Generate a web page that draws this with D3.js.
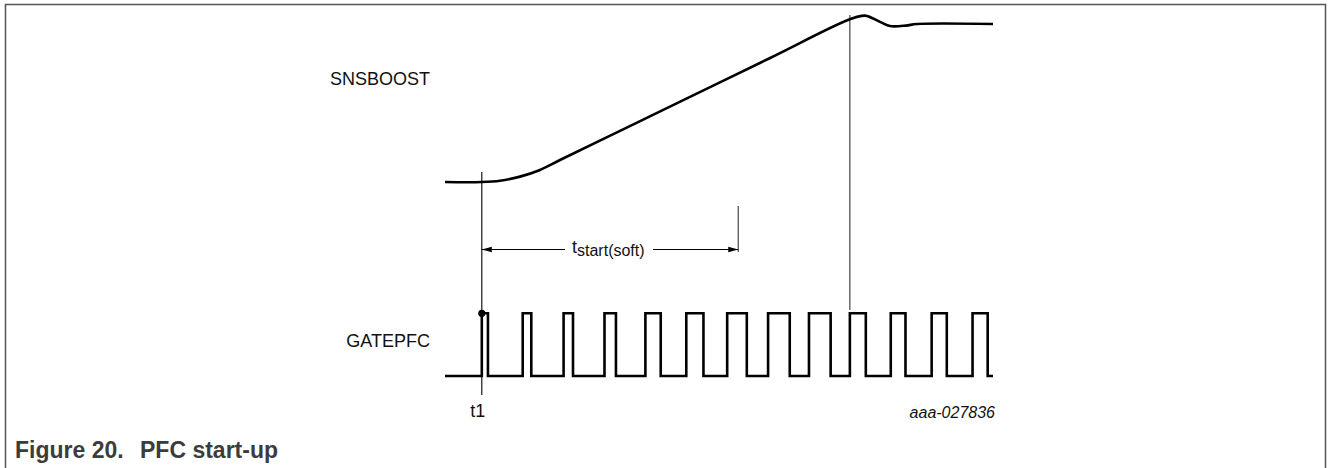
<!DOCTYPE html>
<html>
<head>
<meta charset="utf-8">
<script src="https://cdn.jsdelivr.net/npm/d3@7"></script>
<style>
  html, body { margin: 0; padding: 0; background: #fff; }
  svg { display: block; font-family: "Liberation Sans", Arial, sans-serif; }
</style>
</head>
<body>
<svg width="1328" height="468"></svg>
<script>
// time is in PWM periods, t1 = 0
const boostTime  = [-0.9, 0, 0.445, 0.934, 1.423, 1.912, 3.62, 5.33, 7.05, 9.0, 9.37, 9.76, 9.98, 10.37, 10.64, 12.5];
const boostLevel = [0, 0.0, 0.008, 0.034, 0.076, 0.139, 0.354, 0.569, 0.785, 1.03, 1.053, 1.01, 0.987, 0.99, 1.0, 1.0];

const pulseStart = [0, 1, 2, 3, 4, 5, 6, 7, 8, 9, 10, 11, 12];
const pulseWidth = [0.15, 0.21, 0.23, 0.28, 0.375, 0.42, 0.48, 0.53, 0.53, 0.39, 0.36, 0.37, 0.37];

const timeSpan = [-0.9, 12.5];
const t1Time = 0;
const regulationTime = 9;
const softStartEnd = 6.27;

const signalNames = ['SNSBOOST', 'GATEPFC'];
const t1Label = 't1';
const softLabel = ['t', 'start(soft)'];
const figureId = 'aaa-027836';
const caption = ['Figure 20.', 'PFC start-up'];

const svg = d3.select('svg');

const x = d3.scaleLinear().domain(timeSpan).range([445, 993]);
const yBoost = d3.scaleLinear().domain([0, 1]).range([182, 24]);
const yGate = d3.scaleLinear().domain([0, 1]).range([376, 313.3]);

// figure frame (open at the bottom)
svg.append('path')
    .attr('d', 'M5.5 470 V4.5 H1325.5 V470')
    .attr('fill', 'none')
    .attr('stroke', '#555')
    .attr('stroke-width', 1.5);

// thin marker lines
svg.append('line')
    .attr('x1', x(t1Time)).attr('x2', x(t1Time))
    .attr('y1', 172).attr('y2', 395)
    .attr('stroke', '#000').attr('stroke-width', 1.1);
svg.append('line')
    .attr('x1', x(regulationTime)).attr('x2', x(regulationTime))
    .attr('y1', 15).attr('y2', 310)
    .attr('stroke', '#333').attr('stroke-width', 1.1);

// SNSBOOST
const boostLine = d3.line()
    .x(d => x(d[0]))
    .y(d => yBoost(d[1]))
    .curve(d3.curveCatmullRom.alpha(0.5));
svg.append('path')
    .attr('d', boostLine(d3.zip(boostTime, boostLevel)))
    .attr('fill', 'none')
    .attr('stroke', '#000')
    .attr('stroke-width', 2.6);

// GATEPFC
let gatePts = [[timeSpan[0], 0]];
pulseStart.forEach((s, i) => {
    const e = s + pulseWidth[i];
    gatePts.push([s, 0], [s, 1], [e, 1], [e, 0]);
});
gatePts.push([timeSpan[1], 0]);
svg.append('path')
    .attr('d', d3.line().x(d => x(d[0])).y(d => yGate(d[1]))(gatePts))
    .attr('fill', 'none')
    .attr('stroke', '#000')
    .attr('stroke-width', 2.6)
    .attr('stroke-linejoin', 'miter');

svg.append('circle')
    .attr('cx', x(t1Time)).attr('cy', yGate(1))
    .attr('r', 3.6)
    .attr('fill', '#000');

// t_start(soft) dimension
const dimY = 249.5;
const xa = x(t1Time), xb = x(softStartEnd);
svg.append('line')
    .attr('x1', xb).attr('x2', xb)
    .attr('y1', 206).attr('y2', 252)
    .attr('stroke', '#333').attr('stroke-width', 1.1);
svg.append('line')
    .attr('x1', xa).attr('x2', 565).attr('y1', dimY).attr('y2', dimY)
    .attr('stroke', '#000').attr('stroke-width', 1.1);
svg.append('line')
    .attr('x1', 653).attr('x2', xb).attr('y1', dimY).attr('y2', dimY)
    .attr('stroke', '#000').attr('stroke-width', 1.1);
svg.append('path')
    .attr('d', `M${xa} ${dimY} l10 -2.7 v5.4 Z M${xb} ${dimY} l-10 -2.7 v5.4 Z`)
    .attr('fill', '#000');

const soft = svg.append('text')
    .attr('x', 572).attr('y', 252.5)
    .attr('font-size', 18)
    .attr('fill', '#111');
soft.append('tspan').text(softLabel[0]);
soft.append('tspan').attr('font-size', 16).attr('dy', 3).text(softLabel[1]);

// labels
svg.selectAll('text.signal')
    .data(signalNames).enter()
    .append('text')
    .attr('class', 'signal')
    .attr('x', 430)
    .attr('y', (d, i) => i === 0 ? 85 : 347)
    .attr('text-anchor', 'end')
    .attr('font-size', 18)
    .attr('fill', '#111')
    .text(d => d);

svg.append('text')
    .attr('x', x(t1Time) - 4).attr('y', 417)
    .attr('text-anchor', 'middle')
    .attr('font-size', 18)
    .attr('fill', '#111')
    .text(t1Label);

svg.append('text')
    .attr('x', 995).attr('y', 418)
    .attr('text-anchor', 'end')
    .attr('font-size', 16)
    .attr('font-style', 'italic')
    .attr('fill', '#111')
    .text(figureId);

const cap = svg.append('text')
    .attr('y', 458)
    .attr('font-size', 23)
    .attr('font-weight', 'bold')
    .attr('fill', '#3c3c3c');
cap.append('tspan').attr('x', 15).text(caption[0]);
cap.append('tspan').attr('x', 140).text(caption[1]);
</script>
</body>
</html>
